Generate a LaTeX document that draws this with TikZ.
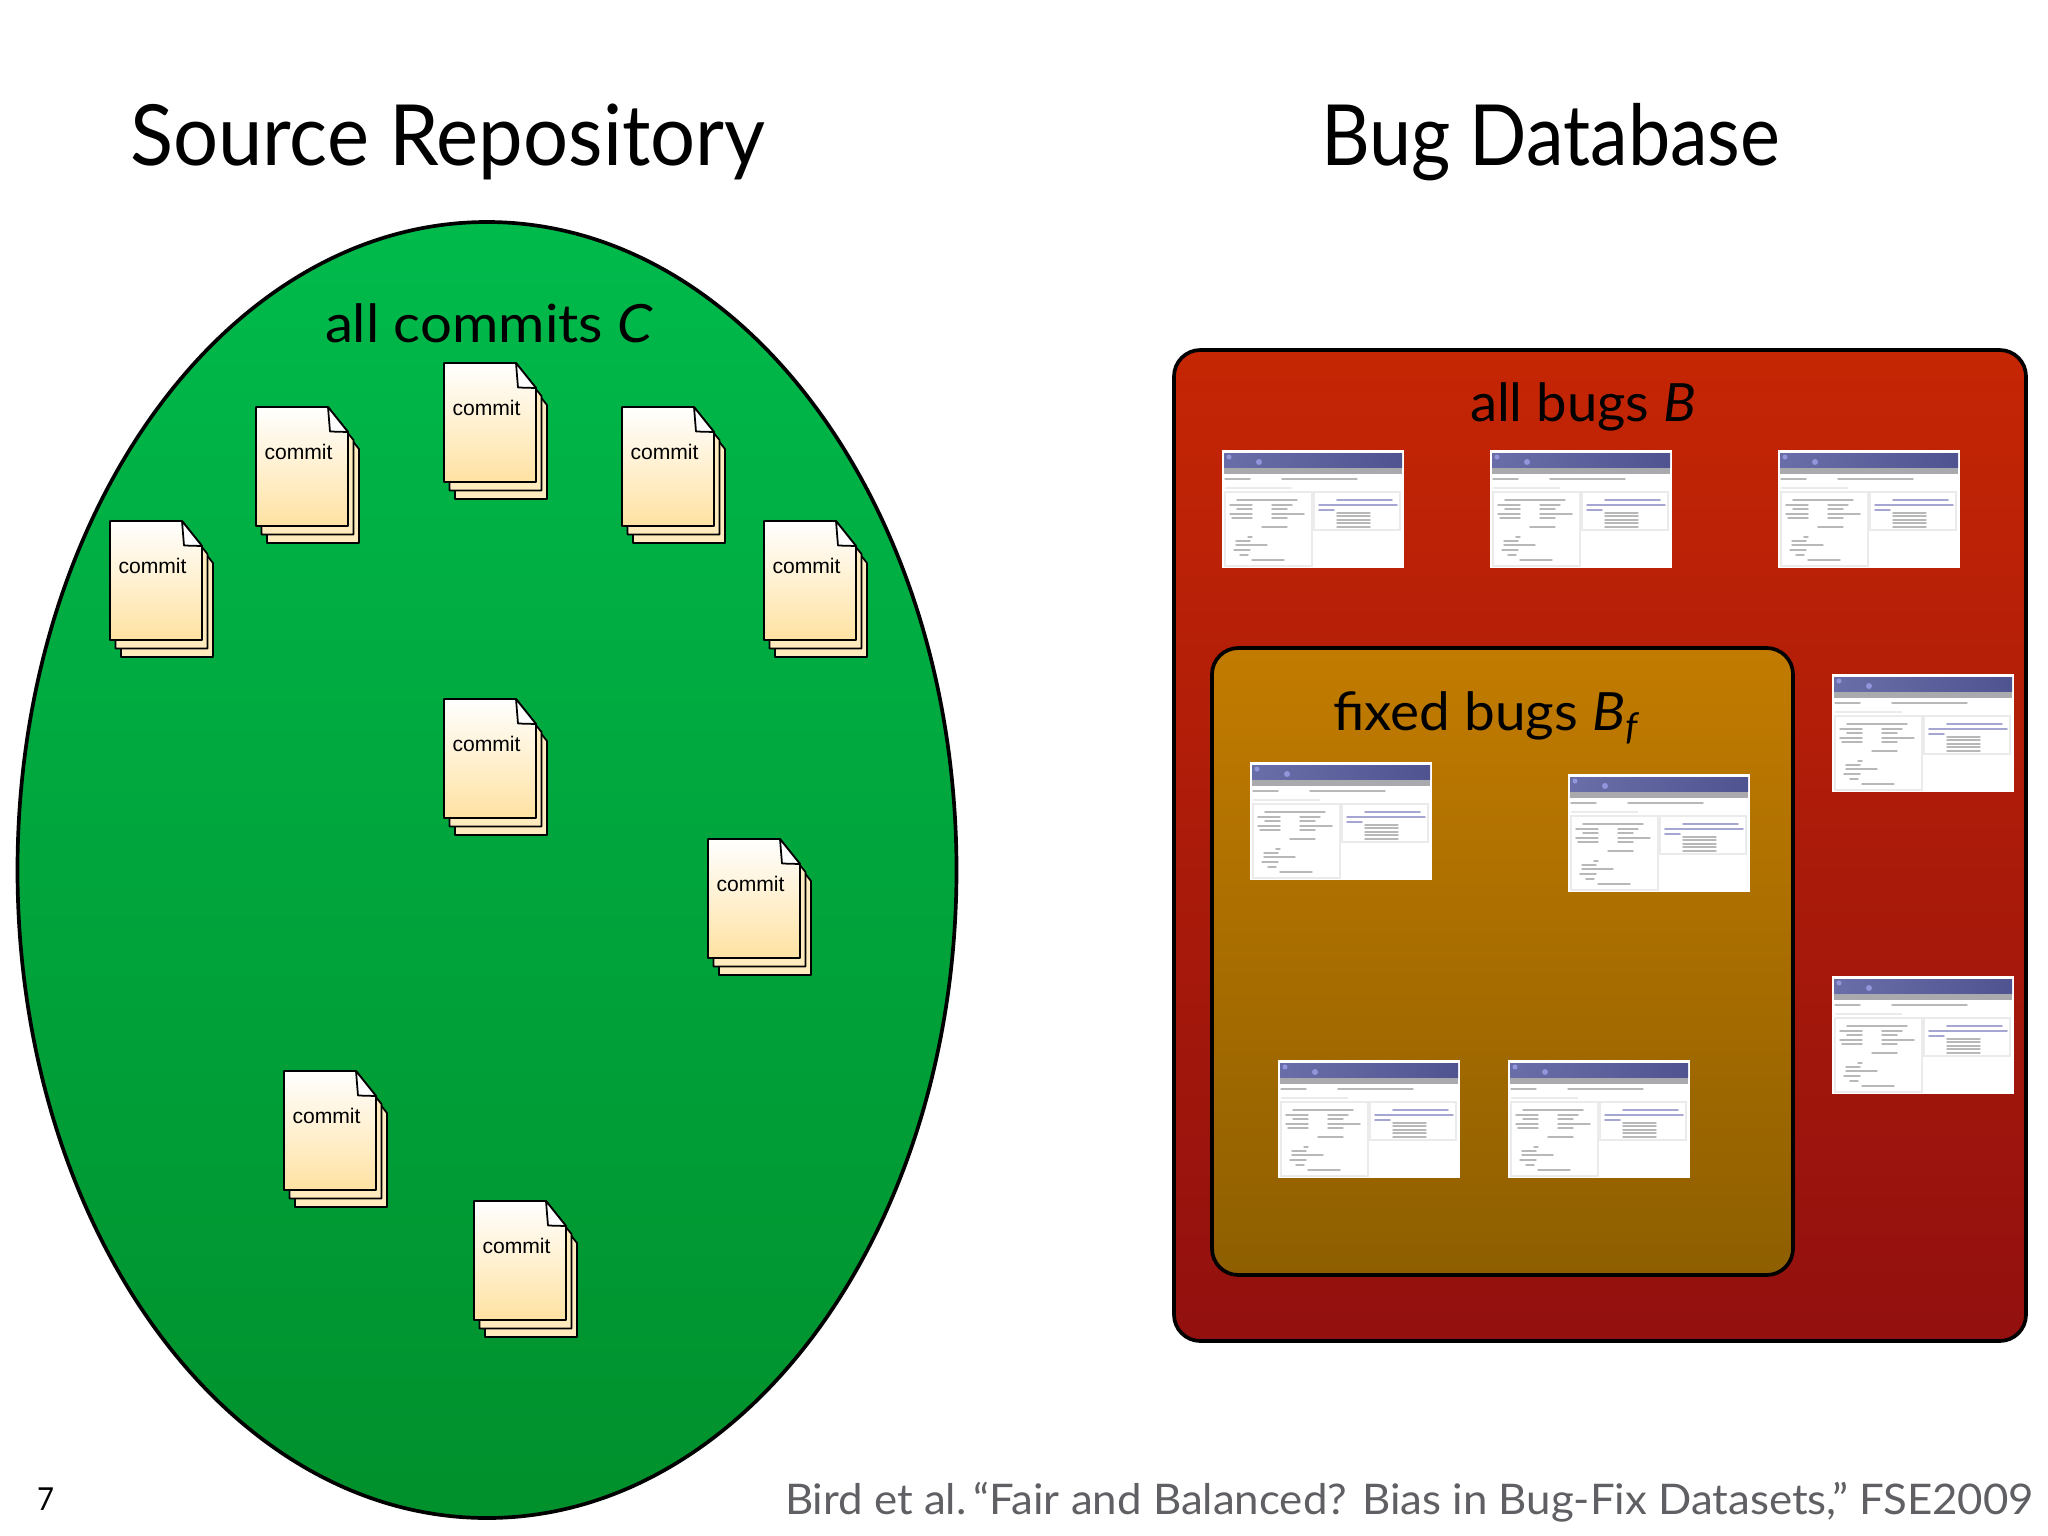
\documentclass[tikz,border=0pt]{standalone}
\usepackage{fontspec}
\usepackage{graphicx}
\setmainfont{Lato}
\newfontfamily\arialf{Liberation Sans}
\definecolor{capgray}{HTML}{5F5F64}
\definecolor{greentop}{HTML}{00BA4C}
\definecolor{greenbot}{HTML}{00902C}
\definecolor{redtop}{HTML}{C52604}
\definecolor{redbot}{HTML}{92100F}
\definecolor{ambertop}{HTML}{C27B00}
\definecolor{amberbot}{HTML}{8E5F00}
\definecolor{sheetbot}{HTML}{FFE2A2}
\definecolor{sheetback}{HTML}{FFEBBE}
\definecolor{headleft}{HTML}{6A6EA8}
\definecolor{headright}{HTML}{4F5390}
\definecolor{barcol}{HTML}{A9A9AE}
\newcommand{\fitw}[2]{\resizebox{#1}{\height}{#2}}
\tikzset{
  x=0.01cm,y=-0.01cm,
  sheetline/.style={draw=black,line width=0.5pt,line join=round},
  region/.style={draw=black,line width=1.05pt},
  lab/.style={anchor=base west,inner sep=0pt,outer sep=0pt,text=black},
  tgray/.style={line width=0.4pt,draw=black!28,line cap=round},
  tblue/.style={line width=0.45pt,draw=blue!50!black!35,line cap=round},
  tlight/.style={line width=0.35pt,draw=black!8},
  commitdoc/.pic={
    \path[sheetline,fill=sheetback] (11,17)--(83,17)--(103,42)--(103,136)--(11,136)--cycle;
    \path[sheetline,fill=sheetback] (5.5,8.5)--(77.5,8.5)--(97.5,33)--(97.5,127.5)--(5.5,127.5)--cycle;
    \path[sheetline,top color=white,bottom color=sheetbot] (0,0)--(72,0)--(92,25)--(92,119)--(0,119)--cycle;
    \path[sheetline,fill=white] (72,0)--(74,24.5)--(92,25)--cycle;
    \node[anchor=base,inner sep=0pt,font=\arialf\fontsize{6}{7}\selectfont,text=black] (-label) at (42.5,52) {commit};
  },
  bugshot/.pic={
    \fill[white] (0,0) rectangle (182,118);
    \shade[left color=headleft,right color=headright] (2,3) rectangle (180,17);
    \fill[barcol] (2,18) rectangle (180,24);
    \fill[white!70!blue,opacity=.6] (7,7) circle (2.5);
    \fill[white!70!blue,opacity=.6] (37,12) circle (3);
    \foreach \xa/\xb in {3/28,60/135} \draw[tgray] (\xa,29)--(\xb,29);
    \draw[tlight] (3,38)--(70,38);
    \draw[tlight] (3,42) rectangle (90,116);
    \draw[tlight] (92,42) rectangle (178,80);
    \foreach \xa/\xb/\yy in {15/75/50,8/30/55,50/70/55,15/30/59,50/65/59,8/30/64,50/82/64,10/30/68,50/65/68,40/65/77,26/30/87,14/28/91,14/45/95,12/28/100,18/26/105,30/62/110} \draw[tgray] (\xa,\yy)--(\xb,\yy);
    \foreach \xa/\xb/\yy in {115/170/50,97/175/55,97/112/60} \draw[tblue] (\xa,\yy)--(\xb,\yy);
    \foreach \yy in {63,66,70,73,77} \draw[tgray] (115,\yy)--(148,\yy);
  },
}
\begin{document}
\begin{tikzpicture}
\useasboundingbox[fill=white] (0,0) rectangle (2048,1536);
% regions
\path[region,top color=greentop,bottom color=greenbot]
  (487,870) ellipse [x radius=469.5,y radius=648];
\path[region,rounded corners=7.5pt,top color=redtop,bottom color=redbot]
  (1174,350) rectangle (2026,1341);
\path[region,rounded corners=7.5pt,top color=ambertop,bottom color=amberbot]
  (1212,648) rectangle (1793,1275);
% titles
\node[lab] (title1) at (130,165) {\fitw{6.35cm}{\fontsize{24}{28}\selectfont Source Repository}};
\node[lab] (title2) at (1321,165) {\fitw{4.59cm}{\fontsize{24}{28}\selectfont Bug Database}};
\node[lab] (allc) at (325,342) {\fitw{3.28cm}{\fontsize{15}{18}\selectfont all commits \textit{C}}};
\node[lab] (allb) at (1470,421) {\fitw{2.26cm}{\fontsize{15}{18}\selectfont all bugs \textit{B}}};
\node[lab] (fixb) at (1333,730) {\fitw{3.08cm}{\fontsize{15}{18}\selectfont fixed bugs \textit{B}\textsubscript{\textit{f}}}};
\node[lab,text=capgray] (cite) at (785,1514) {\fitw{12.48cm}{\fontsize{12}{14}\selectfont Bird et al.\,“Fair and Balanced? Bias in Bug-Fix Datasets,” FSE2009}};
\node[lab] (pageno) at (37,1510) {\fitw{0.17cm}{\fontsize{9}{11}\selectfont 7}};
% commits
\pic (d1) at (256,407) {commitdoc};
\pic (d2) at (444,363) {commitdoc};
\pic (d3) at (622,407) {commitdoc};
\pic (d4) at (110,521) {commitdoc};
\pic (d5) at (764,521) {commitdoc};
\pic (d6) at (444,699) {commitdoc};
\pic (d7) at (708,839) {commitdoc};
\pic (d8) at (284,1071) {commitdoc};
\pic (d9) at (474,1201) {commitdoc};
% bugs
\pic (b1) at (1222,450) {bugshot};
\pic (b2) at (1490,450) {bugshot};
\pic (b3) at (1778,450) {bugshot};
\pic (b4) at (1832,674) {bugshot};
\pic (b5) at (1250,762) {bugshot};
\pic (b6) at (1568,774) {bugshot};
\pic (b7) at (1832,976) {bugshot};
\pic (b8) at (1278,1060) {bugshot};
\pic (b9) at (1508,1060) {bugshot};
\end{tikzpicture}
\end{document}
